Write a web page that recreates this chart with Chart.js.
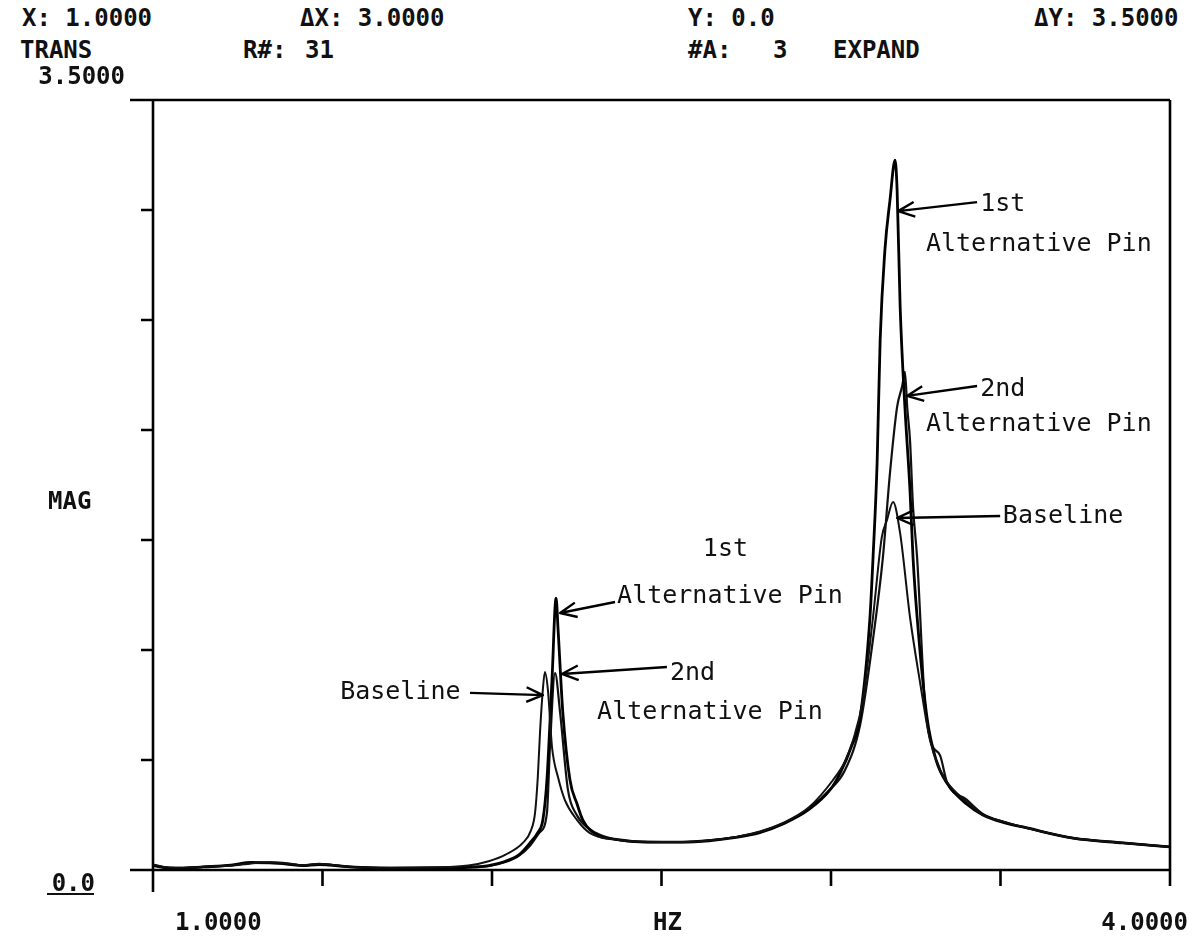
<!DOCTYPE html>
<html lang="en">
<head>
    <meta charset="UTF-8">
    <title>TRANS R#: 31 - MAG vs HZ</title>
    <style>
        body {
            margin: 0;
            background: #ffffff;
            width: 1199px;
            height: 942px;
            position: relative;
            overflow: hidden;
        }

        /* plotter header lines */
        .hdr {
            position: absolute;
            font: bold 24px "DejaVu Sans Mono", monospace;
            line-height: 24px;
            color: #111;
            white-space: pre;
        }

        .chart-box {
            position: absolute;
            left: 0;
            top: 0;
            width: 1199px;
            height: 942px;
        }
    </style>
</head>
<body>

<div class="hdr" style="left:22px;top:6px">X: 1.0000</div>
<div class="hdr" style="left:300px;top:6px">ΔX: 3.0000</div>
<div class="hdr" style="left:688px;top:6px">Y: 0.0</div>
<div class="hdr" style="left:1034px;top:6px">ΔY: 3.5000</div>

<div class="hdr" style="left:20px;top:38px">TRANS</div>
<div class="hdr" style="left:243px;top:38px">R#:</div>
<div class="hdr" style="left:305px;top:38px">31</div>
<div class="hdr" style="left:688px;top:38px">#A:</div>
<div class="hdr" style="left:773px;top:38px">3</div>
<div class="hdr" style="left:833px;top:38px">EXPAND</div>

<div class="chart-box">
    <canvas id="magChart" width="1199" height="942"></canvas>
</div>

<script src="https://cdn.jsdelivr.net/npm/chart.js"></script>

<script>
    // axis range and ticks
    const xMin = 1.0, xMax = 4.0;
    const yMin = 0.0, yMax = 3.5;
    const xTicks = [1.0, 1.5, 2.0, 2.5, 3.0, 3.5, 4.0];
    const yTicks = [0.0, 0.5, 1.0, 1.5, 2.0, 2.5, 3.0, 3.5];

    // Baseline
    const baselineHz = [1.000, 1.040, 1.080, 1.150, 1.230, 1.290, 1.345, 1.400, 1.440, 1.490,
        1.520, 1.580, 1.700, 1.850, 1.930, 1.990, 2.040, 2.091, 2.115, 2.127,
        2.135, 2.142, 2.150, 2.156, 2.165, 2.177, 2.195, 2.215, 2.251, 2.289,
        2.360, 2.460, 2.560, 2.640, 2.720, 2.790, 2.860, 2.935, 3.006, 3.040,
        3.065, 3.094, 3.124, 3.150, 3.165, 3.183, 3.204, 3.233, 3.263, 3.292,
        3.320, 3.342, 3.400, 3.448, 3.510, 3.578, 3.714, 3.861, 4.000];
    const baselineMag = [0.025, 0.012, 0.010, 0.015, 0.020, 0.030, 0.035, 0.030, 0.022, 0.028,
        0.025, 0.015, 0.010, 0.012, 0.020, 0.040, 0.070, 0.123, 0.180, 0.260,
        0.420, 0.636, 0.820, 0.900, 0.818, 0.559, 0.420, 0.318, 0.227, 0.168,
        0.140, 0.128, 0.127, 0.135, 0.150, 0.175, 0.215, 0.285, 0.409, 0.490,
        0.590, 0.773, 1.150, 1.514, 1.590, 1.673, 1.530, 1.150, 0.850, 0.590,
        0.460, 0.400, 0.310, 0.250, 0.220, 0.191, 0.145, 0.123, 0.105];

    // 1st Alternative Pin
    const alt1Hz = [1.000, 1.040, 1.080, 1.150, 1.230, 1.290, 1.345, 1.400, 1.440, 1.490,
        1.520, 1.580, 1.700, 1.850, 1.930, 1.990, 2.040, 2.080, 2.112, 2.135,
        2.150, 2.162, 2.177, 2.189, 2.195, 2.209, 2.230, 2.251, 2.268, 2.310,
        2.360, 2.460, 2.560, 2.640, 2.720, 2.790, 2.860, 2.935, 3.000, 3.027,
        3.060, 3.086, 3.115, 3.124, 3.136, 3.145, 3.159, 3.174, 3.189, 3.195,
        3.204, 3.218, 3.233, 3.242, 3.254, 3.283, 3.310, 3.342, 3.400, 3.448,
        3.510, 3.578, 3.714, 3.861, 4.000];
    const alt1Mag = [0.020, 0.010, 0.008, 0.014, 0.022, 0.034, 0.032, 0.026, 0.020, 0.025,
        0.022, 0.014, 0.008, 0.010, 0.012, 0.020, 0.040, 0.070, 0.123, 0.170,
        0.227, 0.409, 0.864, 1.236, 1.091, 0.714, 0.409, 0.300, 0.227, 0.159,
        0.140, 0.127, 0.127, 0.133, 0.148, 0.170, 0.210, 0.275, 0.370, 0.440,
        0.560, 0.695, 1.150, 1.420, 1.850, 2.409, 2.818, 3.045, 3.227, 3.091,
        2.559, 2.105, 1.727, 1.420, 1.150, 0.695, 0.500, 0.395, 0.300, 0.250,
        0.215, 0.191, 0.145, 0.123, 0.105];

    // 2nd Alternative Pin
    const alt2Hz = [1.000, 1.040, 1.080, 1.150, 1.230, 1.290, 1.345, 1.400, 1.440, 1.490,
        1.520, 1.580, 1.700, 1.850, 1.930, 1.990, 2.040, 2.080, 2.112, 2.140,
        2.162, 2.171, 2.186, 2.201, 2.224, 2.250, 2.280, 2.360, 2.460, 2.560,
        2.640, 2.720, 2.790, 2.860, 2.935, 3.000, 3.040, 3.086, 3.124, 3.153,
        3.174, 3.195, 3.210, 3.218, 3.225, 3.233, 3.242, 3.254, 3.277, 3.295,
        3.322, 3.342, 3.400, 3.448, 3.510, 3.578, 3.714, 3.861, 4.000];
    const alt2Mag = [0.022, 0.011, 0.009, 0.014, 0.021, 0.032, 0.034, 0.028, 0.021, 0.026,
        0.024, 0.014, 0.009, 0.011, 0.014, 0.018, 0.036, 0.065, 0.110, 0.170,
        0.259, 0.559, 0.895, 0.714, 0.364, 0.250, 0.195, 0.140, 0.127, 0.127,
        0.134, 0.150, 0.172, 0.212, 0.280, 0.370, 0.450, 0.660, 1.050, 1.420,
        1.805, 2.105, 2.200, 2.264, 2.100, 1.955, 1.650, 1.420, 0.760, 0.580,
        0.520, 0.400, 0.320, 0.255, 0.218, 0.191, 0.145, 0.123, 0.105];

    // hand written notes on the plot (placed in HZ / MAG units)
    const notes = [
        { text: '1st', hz: 3.440, mag: 3.023 },
        { text: 'Alternative Pin', hz: 3.280, mag: 2.845 },
        { text: '2nd', hz: 3.440, mag: 2.182 },
        { text: 'Alternative Pin', hz: 3.280, mag: 2.023 },
        { text: 'Baseline', hz: 3.507, mag: 1.605 },
        { text: '1st', hz: 2.622, mag: 1.455 },
        { text: 'Alternative Pin', hz: 2.369, mag: 1.241 },
        { text: '2nd', hz: 2.525, mag: 0.895 },
        { text: 'Alternative Pin', hz: 2.310, mag: 0.718 },
        { text: 'Baseline', hz: 1.552, mag: 0.805 }
    ];
    const arrows = [
        { from: [3.431, 3.036], to: [3.198, 2.995] },
        { from: [3.431, 2.200], to: [3.224, 2.155] },
        { from: [3.499, 1.609], to: [3.195, 1.600] },
        { from: [2.363, 1.218], to: [2.201, 1.168] },
        { from: [2.516, 0.923], to: [2.206, 0.891] },
        { from: [1.935, 0.805], to: [2.150, 0.795] }
    ];

    function toPoints(xs, ys) {
        return xs.map((x, i) => ({ x: x, y: ys[i] }));
    }

    const plotFont = 'bold 24px "DejaVu Sans Mono", monospace';
    const noteFont = '25px "DejaVu Sans Mono", monospace';

    // plotter style frame, ticks, end labels and the notes with arrows
    const plotterFrame = {
        id: 'plotterFrame',
        afterDraw(chart) {
            const ctx = chart.ctx;
            const xs = chart.scales.x, ys = chart.scales.y;
            const left = xs.getPixelForValue(xMin), right = xs.getPixelForValue(xMax);
            const top = ys.getPixelForValue(yMax), bottom = ys.getPixelForValue(yMin);

            ctx.save();
            ctx.strokeStyle = '#000';
            ctx.lineWidth = 2.6;
            ctx.lineCap = 'butt';
            ctx.beginPath();
            ctx.moveTo(left - 23, top); ctx.lineTo(right, top);
            ctx.moveTo(left - 23, bottom); ctx.lineTo(right, bottom);
            ctx.moveTo(left, top); ctx.lineTo(left, bottom + 22);
            ctx.moveTo(right, top); ctx.lineTo(right, bottom + 16);
            xTicks.forEach(v => {
                const px = xs.getPixelForValue(v);
                ctx.moveTo(px, bottom); ctx.lineTo(px, bottom + 16);
            });
            yTicks.forEach(v => {
                const py = ys.getPixelForValue(v);
                ctx.moveTo(left - 12, py); ctx.lineTo(left, py);
            });
            ctx.stroke();

            // axis end labels
            ctx.fillStyle = '#111';
            ctx.font = plotFont;
            ctx.textBaseline = 'middle';
            ctx.textAlign = 'right';
            ctx.fillText(yMax.toFixed(4), left - 28, top - 22);
            ctx.fillText(yMin.toFixed(1), left - 58, bottom + 15);
            ctx.fillRect(47, bottom + 23, 47, 2);
            ctx.textAlign = 'left';
            ctx.fillText('MAG', 48, (top + bottom) / 2 + 18);
            ctx.fillText(xMin.toFixed(4), left + 22, bottom + 54);
            ctx.textAlign = 'center';
            ctx.fillText('HZ', (left + right) / 2 + 6, bottom + 54);
            ctx.textAlign = 'right';
            ctx.fillText(xMax.toFixed(4), right + 18, bottom + 54);

            // notes
            ctx.font = noteFont;
            ctx.textAlign = 'left';
            notes.forEach(n => {
                ctx.fillText(n.text, xs.getPixelForValue(n.hz), ys.getPixelForValue(n.mag));
            });

            ctx.lineWidth = 2.4;
            ctx.lineJoin = 'round';
            arrows.forEach(a => {
                const x0 = xs.getPixelForValue(a.from[0]), y0 = ys.getPixelForValue(a.from[1]);
                const x1 = xs.getPixelForValue(a.to[0]), y1 = ys.getPixelForValue(a.to[1]);
                const ang = Math.atan2(y1 - y0, x1 - x0);
                const len = 18, spread = 0.42;
                ctx.beginPath();
                ctx.moveTo(x0, y0); ctx.lineTo(x1, y1);
                ctx.moveTo(x1 - len * Math.cos(ang - spread), y1 - len * Math.sin(ang - spread));
                ctx.lineTo(x1, y1);
                ctx.lineTo(x1 - len * Math.cos(ang + spread), y1 - len * Math.sin(ang + spread));
                ctx.stroke();
            });
            ctx.restore();
        }
    };

    const ctx = document.getElementById('magChart').getContext('2d');
    const magChart = new Chart(ctx, {
        type: 'line',
        data: {
            datasets: [
                {
                    label: 'Baseline',
                    data: toPoints(baselineHz, baselineMag),
                    borderColor: '#111',
                    borderWidth: 2.0
                },
                {
                    label: '1st Alternative Pin',
                    data: toPoints(alt1Hz, alt1Mag),
                    borderColor: '#000',
                    borderWidth: 2.8
                },
                {
                    label: '2nd Alternative Pin',
                    data: toPoints(alt2Hz, alt2Mag),
                    borderColor: '#111',
                    borderWidth: 2.2
                }
            ]
        },
        options: {
            responsive: false,
            animation: false,
            events: [],
            layout: { padding: { left: 153, top: 100, right: 29, bottom: 72 } },
            elements: {
                point: { radius: 0 },
                line: { cubicInterpolationMode: 'monotone', fill: false }
            },
            scales: {
                x: { type: 'linear', min: xMin, max: xMax, display: false },
                y: { type: 'linear', min: yMin, max: yMax, display: false }
            },
            plugins: {
                legend: { display: false },
                tooltip: { enabled: false }
            }
        },
        plugins: [plotterFrame]
    });
</script>

</body>
</html>
